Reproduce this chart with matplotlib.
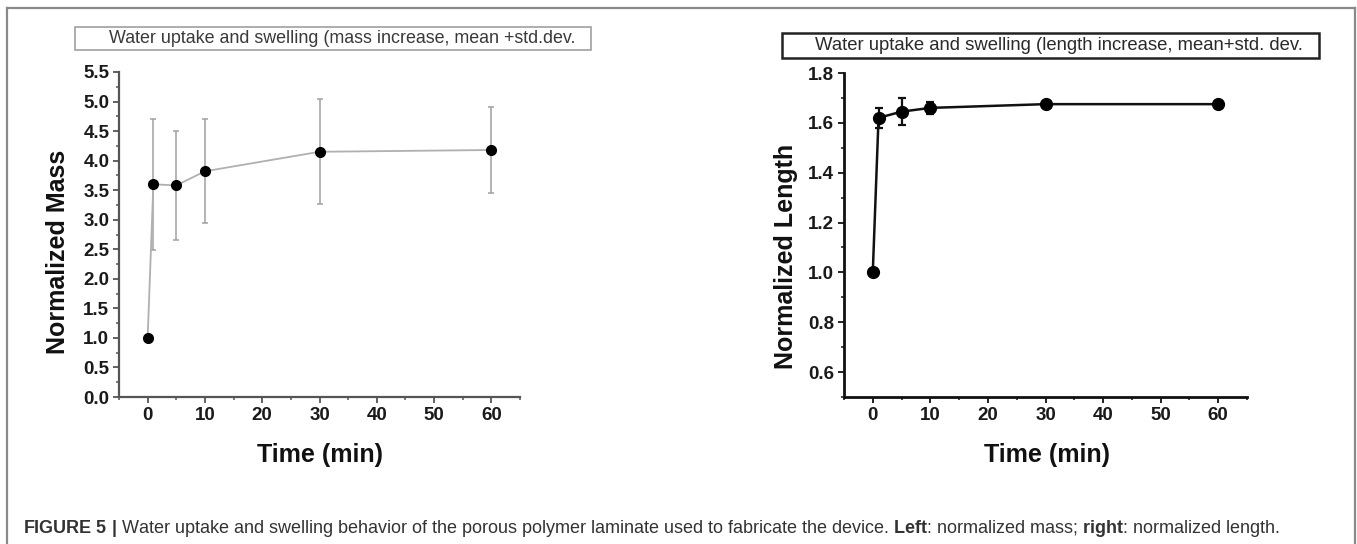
import matplotlib
matplotlib.use("Agg")
import matplotlib.pyplot as plt
from matplotlib.patches import Rectangle
from matplotlib.lines import Line2D
from matplotlib.ticker import MultipleLocator

# data
time_min = [0, 1, 5, 10, 30, 60]
mass_mean = [1.0, 3.60, 3.58, 3.82, 4.15, 4.18]
mass_std = [0.0, 1.11, 0.92, 0.88, 0.89, 0.72]
length_mean = [1.0, 1.62, 1.645, 1.66, 1.675, 1.675]
length_std = [0.0, 0.04, 0.055, 0.025, 0.012, 0.012]

x_ticks = [0, 10, 20, 30, 40, 50, 60]
mass_ticks = [0.0, 0.5, 1.0, 1.5, 2.0, 2.5, 3.0, 3.5, 4.0, 4.5, 5.0, 5.5]
mass_labels = ["0.0", "0.5", "1.0", "1.5", "2.0", "2.5", "3.0", "3.5", "4.0", "4.5", "5.0", "5.5"]
length_ticks = [0.6, 0.8, 1.0, 1.2, 1.4, 1.6, 1.8]
length_labels = ["0.6", "0.8", "1.0", "1.2", "1.4", "1.6", "1.8"]

title_left = "Water uptake and swelling (mass increase, mean +std.dev."
title_right = "Water uptake and swelling (length increase, mean+std. dev."
caption = (r"$\mathbf{FIGURE\ 5\ |}$ Water uptake and swelling behavior of the porous polymer "
           r"laminate used to fabricate the device. $\mathbf{Left}$: normalized mass; "
           r"$\mathbf{right}$: normalized length.")

W, H = 1357, 544
plt.rcParams["font.family"] = ["Liberation Sans", "DejaVu Sans"]
plt.rcParams["mathtext.fontset"] = "custom"
plt.rcParams["mathtext.rm"] = "Liberation Sans"
plt.rcParams["mathtext.bf"] = "Liberation Sans:bold"
plt.rcParams["mathtext.it"] = "Liberation Sans:italic"
fig = plt.figure(figsize=(W / 100, H / 100), dpi=100)


def px_rect(x0, y0, x1, y1):
    # pixel box (from top-left) -> figure fraction rect
    return [x0 / W, 1 - y1 / H, (x1 - x0) / W, (y1 - y0) / H]


def fit_width(txt, target):
    # scale the font so the text is target pixels wide
    r = fig.canvas.get_renderer()
    for _ in range(3):
        w = txt.get_window_extent(r).width
        txt.set_fontsize(txt.get_fontsize() * target / w)


ax1 = fig.add_axes(px_rect(119, 72, 520, 397))
ax2 = fig.add_axes(px_rect(844, 73, 1247, 397))

ax1.errorbar(time_min, mass_mean, yerr=mass_std, color="#b0b0b0", lw=1.3,
             ecolor="#a0a0a0", elinewidth=1.1, capsize=2.5, capthick=1.1,
             marker="o", ms=7, mfc="black", mec="black", zorder=3)
ax2.errorbar(time_min, length_mean, yerr=length_std, color="#111111", lw=1.8,
             ecolor="#111111", elinewidth=1.6, capsize=3, capthick=1.6,
             marker="o", ms=8.5, mfc="black", mec="black", zorder=3)

ax1.set_xlim(-5, 65)
ax1.set_ylim(0, 5.5)
ax2.set_xlim(-5, 65)
ax2.set_ylim(0.5, 1.8)

ax1.set_yticks(mass_ticks)
ax1.set_yticklabels(mass_labels)
ax1.yaxis.set_minor_locator(MultipleLocator(0.25))
ax2.set_yticks(length_ticks)
ax2.set_yticklabels(length_labels)
ax2.yaxis.set_minor_locator(MultipleLocator(0.1))

for ax, col, lw in [(ax1, "#555555", 1.6), (ax2, "#111111", 2.0)]:
    ax.set_xticks(x_ticks)
    ax.set_xticklabels([str(t) for t in x_ticks])
    ax.xaxis.set_minor_locator(MultipleLocator(5))
    for s in ["top", "right"]:
        ax.spines[s].set_visible(False)
    for s in ["left", "bottom"]:
        ax.spines[s].set_color(col)
        ax.spines[s].set_linewidth(lw)
    ax.tick_params(which="major", direction="out", length=4, width=1.3,
                   color=col, labelsize=13.5, pad=3)
    ax.tick_params(which="minor", direction="out", length=2.5, width=1.1, color=col)
    for lab in ax.get_xticklabels() + ax.get_yticklabels():
        lab.set_fontweight("bold")
        lab.set_color("#1a1a1a")
    ax.set_xlabel("Time (min)", fontsize=18, fontweight="bold", color="#111111")

ax1.set_ylabel("Normalized Mass", fontsize=18, fontweight="bold", color="#111111")
ax2.set_ylabel("Normalized Length", fontsize=18, fontweight="bold", color="#111111")

ax1.xaxis.set_label_coords((320 - 119) / 401, (397 - 455) / 325)
ax2.xaxis.set_label_coords((1047 - 844) / 403, (397 - 455) / 324)
ax1.yaxis.set_label_coords((58 - 119) / 401, (397 - 252) / 325)
ax2.yaxis.set_label_coords((786 - 844) / 403, (397 - 256) / 324)
for ax in (ax1, ax2):
    for lab in (ax.xaxis.label, ax.yaxis.label):
        lab.set_verticalalignment("center")
        lab.set_horizontalalignment("center")

# title boxes
fig.add_artist(Rectangle((75 / W, 1 - 50 / H), 516 / W, 23 / H, transform=fig.transFigure,
                         fill=False, ec="#a0a0a0", lw=1.2))
fig.add_artist(Rectangle((782 / W, 1 - 58 / H), 537 / W, 25 / H, transform=fig.transFigure,
                         fill=False, ec="#222222", lw=1.8))
t1 = fig.text(342 / W, 1 - 38.5 / H, title_left, ha="center", va="center",
              fontsize=11, color="#3a3a3a")
t2 = fig.text(1059 / W, 1 - 45.5 / H, title_right, ha="center", va="center",
              fontsize=11, color="#2a2a2a")
fit_width(t1, 469)
fit_width(t2, 486)

# outer frame
frame_col = "#8a8a8a"
fig.add_artist(Line2D([7 / W, 7 / W], [0, 1 - 8 / H], transform=fig.transFigure, color=frame_col, lw=1.6))
fig.add_artist(Line2D([7 / W, 1355 / W], [1 - 8 / H, 1 - 8 / H], transform=fig.transFigure, color=frame_col, lw=1.6))
fig.add_artist(Line2D([1355 / W, 1355 / W], [0, 1 - 8 / H], transform=fig.transFigure, color=frame_col, lw=1.6))

# caption
cap = fig.text(23 / W, 1 - 533 / H, caption, ha="left", va="baseline",
               fontsize=13, color="#333333")
fit_width(cap, 1260)

fig.savefig("out.png", dpi=100)
